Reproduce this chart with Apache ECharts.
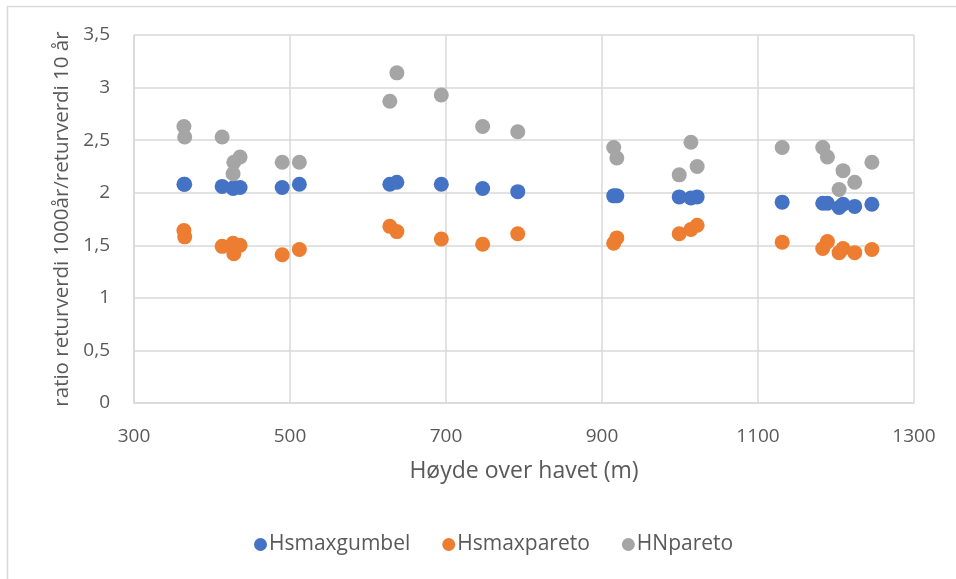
<!DOCTYPE html>
<html>
<head>
<meta charset="utf-8">
<script src="https://cdn.jsdelivr.net/npm/echarts@6/dist/echarts.min.js"></script>
<style>
  html, body { margin: 0; padding: 0; background: #fff; }
  #chart { width: 956px; height: 579px; }
</style>
</head>
<body>
<div id="chart"></div>
<script>
// Station altitude (m) and return-value ratios per method
const altitude = [364, 365, 413, 427, 428, 436, 490, 512, 628, 637, 694, 747, 792,
                  915, 919, 999, 1014, 1022, 1131, 1183, 1189, 1204, 1209, 1224, 1246];
const hsmaxGumbel = [2.08, 2.08, 2.06, 2.04, 2.05, 2.05, 2.05, 2.08, 2.08, 2.10, 2.08, 2.04, 2.01,
                     1.97, 1.97, 1.96, 1.95, 1.96, 1.91, 1.90, 1.90, 1.86, 1.89, 1.87, 1.89];
const hsmaxPareto = [1.64, 1.58, 1.49, 1.52, 1.42, 1.50, 1.41, 1.46, 1.68, 1.63, 1.56, 1.51, 1.61,
                     1.52, 1.57, 1.61, 1.65, 1.69, 1.53, 1.47, 1.535, 1.43, 1.47, 1.43, 1.46];
const hnPareto = [2.63, 2.53, 2.53, 2.18, 2.29, 2.34, 2.29, 2.29, 2.87, 3.14, 2.93, 2.63, 2.58,
                  2.43, 2.33, 2.17, 2.48, 2.25, 2.43, 2.43, 2.34, 2.03, 2.21, 2.10, 2.29];
const seriesNames = ['Hsmaxgumbel', 'Hsmaxpareto', 'HNpareto'];
const xTicks = { min: 300, max: 1300, step: 200 };
const yTicks = { min: 0, max: 3.5, step: 0.5 };

const colors = ['#4472C4', '#ED7D31', '#A5A5A5'];
const font = '"Open Sans", "Noto Sans", sans-serif';
const textColor = '#595959';
const gridColor = '#D9D9D9';

const pairs = ys => altitude.map((x, i) => [x, ys[i]]);
const seriesData = [hsmaxGumbel, hsmaxPareto, hnPareto];

const chart = echarts.init(document.getElementById('chart'), null, { renderer: 'canvas' });
chart.setOption({
  animation: false,
  backgroundColor: '#fff',
  color: colors,
  textStyle: { fontFamily: font },
  grid: { left: 134, right: 42, top: 35, bottom: 176, containLabel: false },
  graphic: [{
    type: 'rect', silent: true, z: -1,
    shape: { x: 7.5, y: 6.5, width: 980, height: 620 },
    style: { fill: 'none', stroke: gridColor, lineWidth: 1.5 }
  }],
  legend: {
    bottom: 24, left: 254, padding: 0,
    itemGap: 32, itemWidth: 13, itemHeight: 13,
    icon: 'circle',
    textStyle: { color: textColor, fontSize: 21, fontFamily: font, padding: [0, 0, 0, -3] },
    data: seriesNames
  },
  xAxis: {
    type: 'value', min: xTicks.min, max: xTicks.max, interval: xTicks.step,
    name: 'Høyde over havet (m)', nameLocation: 'middle', nameGap: 57,
    nameTextStyle: { color: textColor, fontSize: 23, fontFamily: font },
    axisLine: { show: true, lineStyle: { color: gridColor, width: 1.5 } },
    axisTick: { show: false },
    axisLabel: { color: textColor, fontSize: 19, margin: 24, fontFamily: font,
                 formatter: v => String(v) },
    splitLine: { show: true, lineStyle: { color: gridColor, width: 1.5 } }
  },
  yAxis: {
    type: 'value', min: yTicks.min, max: yTicks.max, interval: yTicks.step,
    name: 'ratio returverdi 1000år/returverdi 10 år', nameLocation: 'middle', nameGap: 61,
    nameTextStyle: { color: textColor, fontSize: 20.5, fontFamily: font },
    axisLine: { show: true, lineStyle: { color: gridColor, width: 1.5 } },
    axisTick: { show: false },
    axisLabel: {
      color: textColor, fontSize: 19, margin: 24, fontFamily: font,
      formatter: v => String(v).replace('.', ',')
    },
    splitLine: { show: true, lineStyle: { color: gridColor, width: 1.5 } }
  },
  series: seriesNames.map((name, k) => ({
    name, type: 'scatter', symbol: 'circle', symbolSize: 15,
    itemStyle: { color: colors[k], opacity: 1 },
    data: pairs(seriesData[k])
  }))
});
</script>
</body>
</html>
